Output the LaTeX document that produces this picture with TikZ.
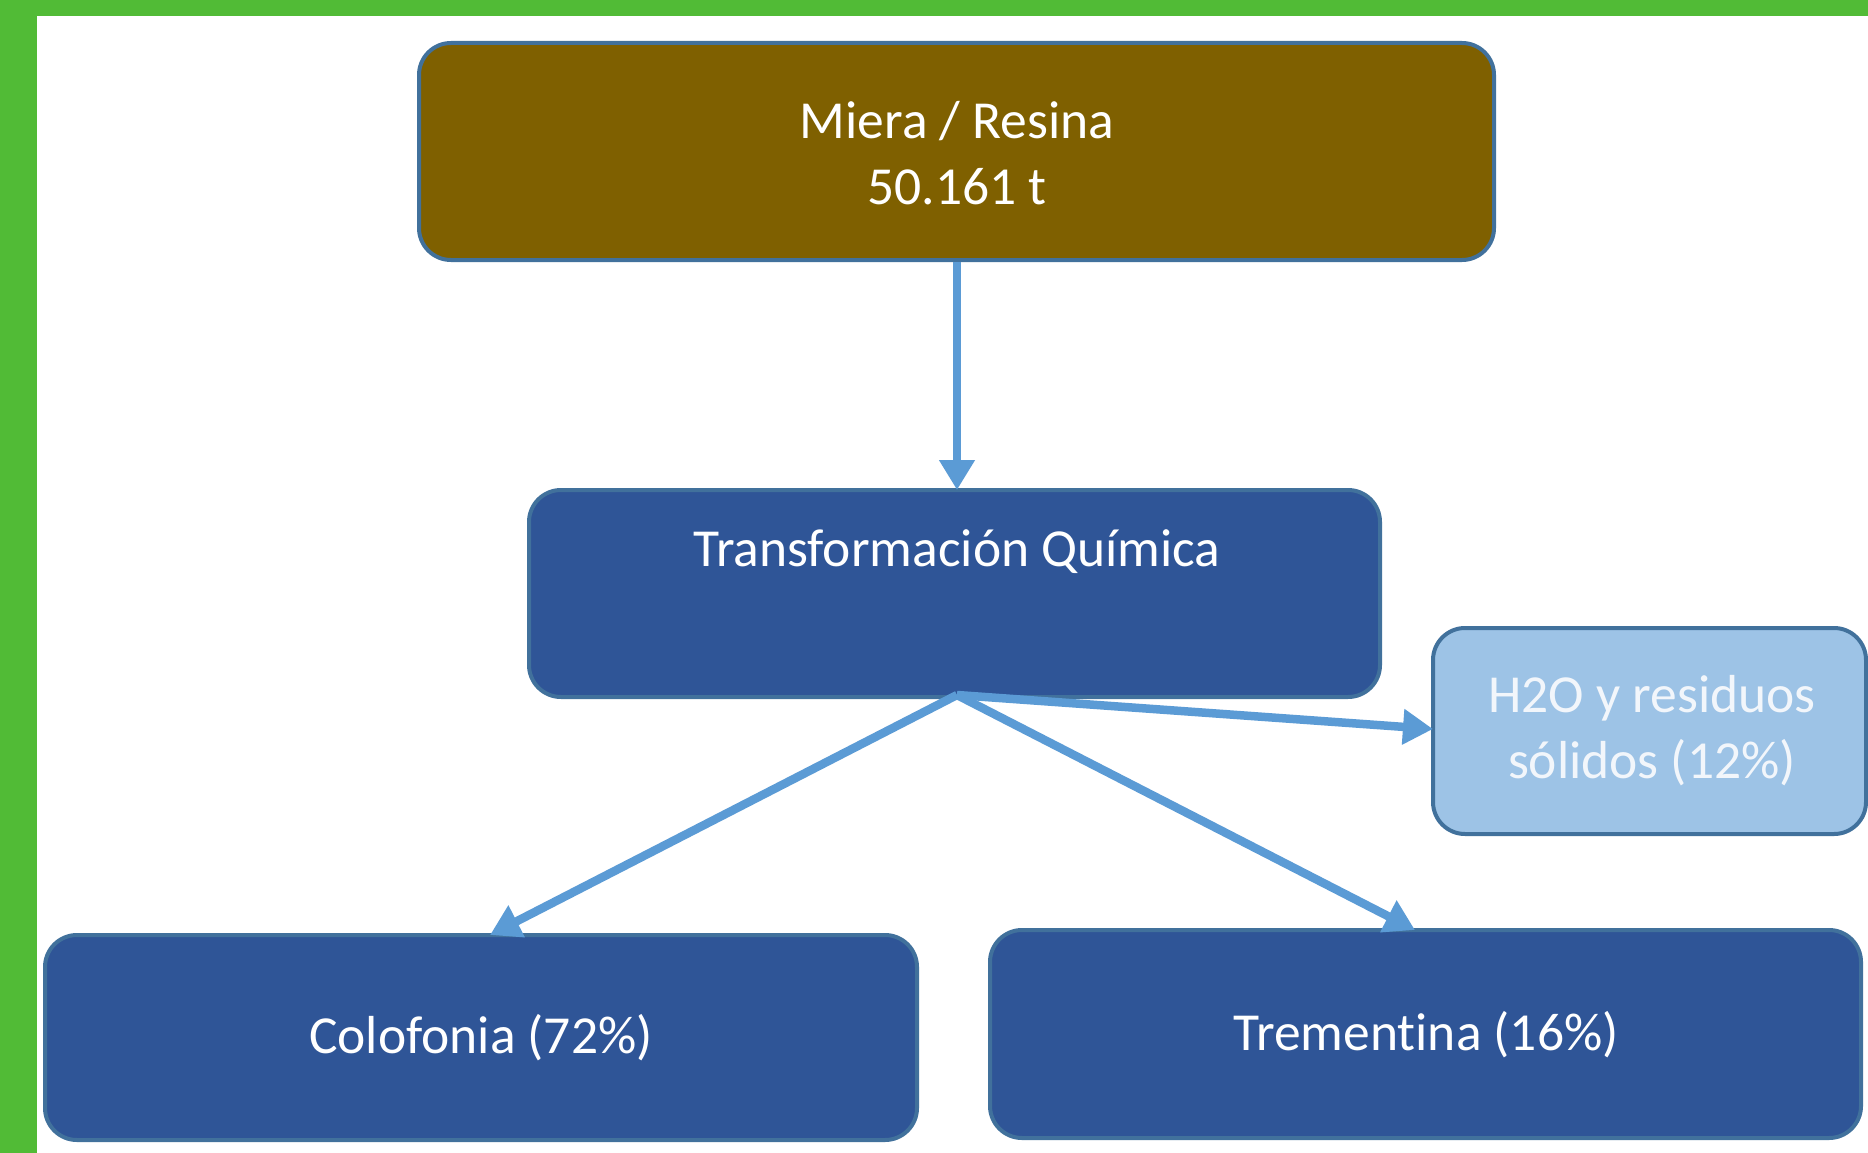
\documentclass[tikz,border=0pt]{standalone}
\usepackage{fontspec}
\setmainfont{Carlito}[Ligatures=NoCommon]
\usetikzlibrary{arrows.meta}
\definecolor{framegreen}{HTML}{51BB36}
\definecolor{brownfill}{HTML}{7F6000}
\definecolor{boxedge}{HTML}{41719C}
\definecolor{darkfill}{HTML}{2F5597}
\definecolor{lightfill}{HTML}{9DC3E6}
\definecolor{arrowblue}{HTML}{5B9BD5}
\definecolor{palewhite}{HTML}{F2F6FB}
\tikzset{
  box/.style={draw=boxedge, line width=4pt, rounded corners=32pt, inner sep=0pt},
  lbl/.style={inner sep=0pt, align=center, text=white, font=\fontsize{53.5}{66}\selectfont},
  flow/.style={draw=arrowblue, line width=8.5pt, -{Triangle[width=34pt,length=30pt]}}
}
\begin{document}
\begin{tikzpicture}[x=1pt,y=-1pt]
\useasboundingbox (0,0) rectangle (1868,1153);
\fill[white] (0,0) rectangle (1868,1153);
\fill[framegreen] (0,0) rectangle (37,1153);
\fill[framegreen] (0,0) rectangle (1868,16);
% boxes
\path[box, fill=brownfill] (419,43) rectangle (1494,260);
\coordinate (topS) at (957,262);
\path[box, fill=darkfill] (529,490) rectangle (1380,697);
\coordinate (trN) at (957,490);
\coordinate (trS) at (957,695);
\path[box, fill=lightfill] (1433,628) rectangle (1866,834);
\coordinate (hW) at (1433,729);
\path[box, fill=darkfill] (45,935) rectangle (917,1140);
\coordinate (cN) at (490,935);
\path[box, fill=darkfill] (990,930) rectangle (1861,1138);
\coordinate (tN) at (1415,930);
% labels
\node[lbl] (miera) at (957,153) {Miera / Resina\\50.161 t};
\node[lbl] (transf) at (957,552) {Transformación Química};
\node[lbl, text=palewhite] (h2o) at (1652,731) {H2O y residuos\\sólidos (12\%)};
\node[lbl] (colo) at (481,1038) {Colofonia (72\%)};
\node[lbl] (trem) at (1426,1035) {Trementina (16\%)};
% connectors
\draw[flow] (topS) -- (trN);
\draw[flow] (trS) -- (cN);
\draw[flow] (trS) -- (tN);
\draw[flow] (trS) -- (hW);
\end{tikzpicture}
\end{document}
